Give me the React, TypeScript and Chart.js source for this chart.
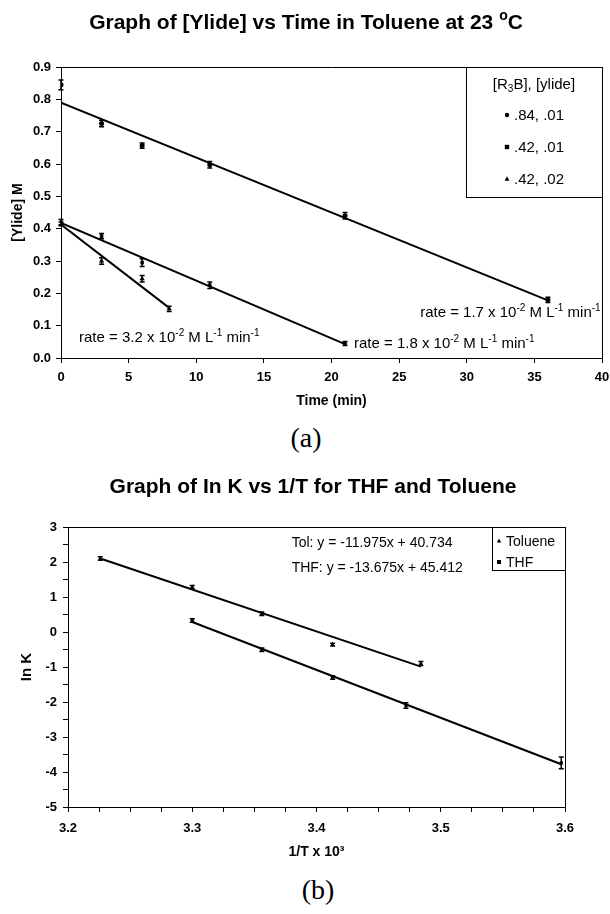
import React, { useEffect, useRef } from "react";
import { Chart, registerables } from "chart.js";

Chart.register(...registerables);

const SANS = "'Liberation Sans', Arial, Helvetica, sans-serif";
const SERIF = "'Liberation Serif', 'Times New Roman', serif";

// ---------------- chart (a) data ----------------
const labelsA = [".84, .01", ".42, .01", ".42, .02"];
const timeA1 = [0, 3, 6, 11, 21, 36];
const concA1 = [0.845, 0.725, 0.657, 0.598, 0.44, 0.18];
const errA1 = [0.015, 0.01, 0.008, 0.01, 0.01, 0.008];
const timeA2 = [0, 3, 6, 11, 21];
const concA2 = [0.42, 0.377, 0.295, 0.225, 0.045];
const errA2 = [0.008, 0.008, 0.012, 0.01, 0.006];
const timeA3 = [0, 3, 6, 8];
const concA3 = [0.415, 0.3, 0.245, 0.152];
const errA3 = [0.006, 0.01, 0.01, 0.008];
const fitTimeA1 = [0, 36];
const fitConcA1 = [0.79, 0.178];
const fitTimeA2 = [0, 21];
const fitConcA2 = [0.418, 0.043];
const fitTimeA3 = [0, 8];
const fitConcA3 = [0.413, 0.155];
const ratesA = ["3.2", "1.8", "1.7"];

// ---------------- chart (b) data ----------------
const labelsB = ["Toluene", "THF"];
const invTTol = [3.226, 3.3, 3.356, 3.413, 3.484];
const lnKTol = [2.1, 1.28, 0.52, -0.36, -0.9];
const errTol = [0.05, 0.05, 0.05, 0.04, 0.06];
const invTTHF = [3.3, 3.356, 3.413, 3.472, 3.597];
const lnKTHF = [0.33, -0.51, -1.3, -2.1, -3.74];
const errTHF = [0.05, 0.05, 0.05, 0.08, 0.17];
const fitInvTTol = [3.226, 3.484];
const fitLnKTol = [2.1, -0.99];
const fitInvTTHF = [3.3, 3.597];
const fitLnKTHF = [0.285, -3.78];
const eqTol = "Tol: y = -11.975x + 40.734";
const eqTHF = "THF: y = -13.675x + 45.412";

type Seg = [string, number];

const pts = (xs: number[], ys: number[]) => xs.map((x, i) => ({ x, y: ys[i] }));

function drawRich(
  ctx: CanvasRenderingContext2D,
  segs: Seg[],
  x: number,
  y: number,
  size: number,
  weight: string,
  align: "left" | "center" | "right"
) {
  const small = Math.round(size * 0.68);
  const fontFor = (m: number) => `${weight} ${m ? small : size}px ${SANS}`;
  let w = 0;
  for (const [t, m] of segs) {
    ctx.font = fontFor(m);
    w += ctx.measureText(t).width;
  }
  let cx = align === "center" ? x - w / 2 : align === "right" ? x - w : x;
  ctx.textAlign = "left";
  ctx.textBaseline = "alphabetic";
  ctx.fillStyle = "#000";
  for (const [t, m] of segs) {
    ctx.font = fontFor(m);
    const dy = m > 0 ? -size * 0.42 : m < 0 ? size * 0.22 : 0;
    ctx.fillText(t, cx, y + dy);
    cx += ctx.measureText(t).width;
  }
}

function drawMarker(ctx: CanvasRenderingContext2D, style: string, x: number, y: number, r: number) {
  ctx.beginPath();
  if (style === "rect") ctx.rect(x - r, y - r, 2 * r, 2 * r);
  else if (style === "triangle") {
    ctx.moveTo(x, y - r * 1.2);
    ctx.lineTo(x + r * 1.1, y + r * 0.8);
    ctx.lineTo(x - r * 1.1, y + r * 0.8);
    ctx.closePath();
  } else ctx.arc(x, y, r, 0, Math.PI * 2);
  ctx.fillStyle = "#000";
  ctx.fill();
}

const errorBarPlugin = {
  id: "errorBars",
  afterDatasetsDraw(chart: any) {
    const { ctx, scales } = chart;
    const y = scales.y;
    ctx.save();
    ctx.strokeStyle = "#000";
    ctx.lineWidth = 1.5;
    chart.data.datasets.forEach((ds: any, i: number) => {
      if (!ds.errors) return;
      const meta = chart.getDatasetMeta(i);
      meta.data.forEach((el: any, j: number) => {
        const v = ds.data[j].y;
        const e = ds.errors[j];
        const top = y.getPixelForValue(v + e);
        const bot = y.getPixelForValue(v - e);
        ctx.beginPath();
        ctx.moveTo(el.x, top);
        ctx.lineTo(el.x, bot);
        ctx.moveTo(el.x - 2.5, top);
        ctx.lineTo(el.x + 2.5, top);
        ctx.moveTo(el.x - 2.5, bot);
        ctx.lineTo(el.x + 2.5, bot);
        ctx.stroke();
      });
    });
    ctx.restore();
  },
};

function drawFrame(ctx: CanvasRenderingContext2D, ca: any) {
  ctx.strokeStyle = "#000";
  ctx.lineWidth = 1;
  ctx.beginPath();
  ctx.moveTo(ca.left, Math.round(ca.top) + 0.5);
  ctx.lineTo(Math.round(ca.right) + 0.5, Math.round(ca.top) + 0.5);
  ctx.lineTo(Math.round(ca.right) + 0.5, ca.bottom);
  ctx.stroke();
}

const rateSegs = (r: string): Seg[] => [
  [`rate = ${r} x 10`, 0],
  ["-2", 1],
  [" M L", 0],
  ["-1", 1],
  [" min", 0],
  ["-1", 1],
];

const decorA = {
  id: "decorA",
  afterDraw(chart: any) {
    const { ctx, chartArea: ca, scales } = chart;
    const { x, y } = scales;
    ctx.save();
    drawFrame(ctx, ca);
    // title
    drawRich(
      ctx,
      [["Graph of [Ylide] vs Time in Toluene at 23 ", 0], ["o", 1], ["C", 0]],
      306,
      29,
      21,
      "bold",
      "center"
    );
    // legend
    const bw = 136;
    const bh = 130;
    const bx = Math.round(ca.right) - bw;
    const by = Math.round(ca.top);
    ctx.strokeStyle = "#000";
    ctx.lineWidth = 1;
    ctx.strokeRect(bx + 0.5, by + 0.5, bw, bh);
    drawRich(ctx, [["[R", 0], ["3", -1], ["B], [ylide]", 0]], bx + bw / 2, by + 22, 15, "normal", "center");
    let row = 0;
    chart.data.datasets.forEach((ds: any) => {
      if (!ds.inLegend) return;
      const cy = by + 48 + row * 32;
      drawMarker(ctx, ds.pointStyle, bx + bw / 2 - 27, cy, 2.2);
      drawRich(ctx, [[ds.label, 0]], bx + bw / 2 - 20, cy + 5, 15, "normal", "left");
      row++;
    });
    // rate annotations
    const notes = [
      { r: ratesA[0], x: 1.33, y: 0.065, align: "left" },
      { r: ratesA[1], x: 21.66, y: 0.046, align: "left" },
      { r: ratesA[2], x: 39.9, y: 0.142, align: "right" },
    ];
    for (const n of notes) {
      drawRich(ctx, rateSegs(n.r), x.getPixelForValue(n.x), y.getPixelForValue(n.y) + 5, 15, "normal", n.align as any);
    }
    ctx.restore();
  },
};

const decorB = {
  id: "decorB",
  afterDraw(chart: any) {
    const { ctx, chartArea: ca, scales } = chart;
    const { x, y } = scales;
    ctx.save();
    drawFrame(ctx, ca);
    drawRich(ctx, [["Graph of In K vs 1/T for THF and Toluene", 0]], 313, 33, 21, "bold", "center");
    // legend
    const bw = 73;
    const bh = 43;
    const bx = Math.round(ca.right) - bw;
    const by = Math.round(ca.top);
    ctx.strokeStyle = "#000";
    ctx.lineWidth = 1;
    ctx.strokeRect(bx + 0.5, by + 0.5, bw, bh);
    let row = 0;
    chart.data.datasets.forEach((ds: any) => {
      if (!ds.inLegend) return;
      const cy = by + 14 + row * 21;
      drawMarker(ctx, ds.pointStyle, bx + 7, cy, 2);
      drawRich(ctx, [[ds.label, 0]], bx + 14, cy + 5, 14, "normal", "left");
      row++;
    });
    // equations
    drawRich(ctx, [[eqTol, 0]], x.getPixelForValue(3.38), y.getPixelForValue(2.57) + 5, 14, "normal", "left");
    drawRich(ctx, [[eqTHF, 0]], x.getPixelForValue(3.38), y.getPixelForValue(1.857) + 5, 14, "normal", "left");
    ctx.restore();
  },
};

const pointDs = (label: string, xs: number[], ys: number[], errs: number[], style: string, r: number) => ({
  label,
  data: pts(xs, ys),
  errors: errs,
  pointStyle: style,
  pointRadius: r,
  pointHoverRadius: r,
  backgroundColor: "#000",
  borderColor: "#000",
  borderWidth: 0,
  showLine: false,
  inLegend: true,
});

const fitDs = (xs: number[], ys: number[]) => ({
  label: "",
  data: pts(xs, ys),
  showLine: true,
  pointRadius: 0,
  pointHoverRadius: 0,
  borderColor: "#000",
  backgroundColor: "#000",
  borderWidth: 2,
  fill: false,
  inLegend: false,
});

const tickFont = { family: SANS, size: 13, weight: "bold" as const };

function buildA(): any {
  return {
    type: "scatter",
    data: {
      datasets: [
        pointDs(labelsA[0], timeA1, concA1, errA1, "circle", 2.5),
        pointDs(labelsA[1], timeA2, concA2, errA2, "rect", 2.5),
        pointDs(labelsA[2], timeA3, concA3, errA3, "triangle", 3),
        fitDs(fitTimeA1, fitConcA1),
        fitDs(fitTimeA2, fitConcA2),
        fitDs(fitTimeA3, fitConcA3),
      ],
    },
    options: {
      responsive: false,
      animation: false,
      events: [],
      layout: { padding: { top: 67, right: 8, left: 0, bottom: 0 } },
      plugins: { legend: { display: false }, title: { display: false }, tooltip: { enabled: false } },
      scales: {
        x: {
          type: "linear",
          min: 0,
          max: 40,
          ticks: { stepSize: 5, font: tickFont, color: "#000", padding: 7, maxRotation: 0, autoSkip: false },
          grid: { drawOnChartArea: false, drawTicks: true, tickLength: 5, color: "#000" },
          border: { color: "#000", width: 1 },
          title: {
            display: true,
            text: "Time (min)",
            color: "#000",
            font: { family: SANS, size: 14, weight: "bold" },
            padding: { top: 0, bottom: 10 },
          },
          afterFit: (s: any) => {
            s.height = 62;
            s.paddingLeft = 0;
            s.paddingRight = 0;
          },
        },
        y: {
          type: "linear",
          min: 0,
          max: 0.9,
          ticks: {
            stepSize: 0.1,
            font: tickFont,
            color: "#000",
            padding: 5,
            autoSkip: false,
            callback: (v: any) => Number(v).toFixed(1),
          },
          grid: { drawOnChartArea: false, drawTicks: true, tickLength: 5, color: "#000" },
          border: { color: "#000", width: 1 },
          title: {
            display: true,
            text: "[Ylide] M",
            color: "#000",
            font: { family: SANS, size: 14, weight: "bold" },
            padding: { top: 10, bottom: 0 },
          },
          afterFit: (s: any) => {
            s.width = 61;
            s.paddingTop = 0;
            s.paddingBottom = 0;
          },
        },
      },
    },
    plugins: [errorBarPlugin, decorA],
  };
}

function buildB(): any {
  return {
    type: "scatter",
    data: {
      datasets: [
        pointDs(labelsB[0], invTTol, lnKTol, errTol, "triangle", 2.6),
        pointDs(labelsB[1], invTTHF, lnKTHF, errTHF, "rect", 2.3),
        fitDs(fitInvTTol, fitLnKTol),
        fitDs(fitInvTTHF, fitLnKTHF),
      ],
    },
    options: {
      responsive: false,
      animation: false,
      events: [],
      layout: { padding: { top: 67, right: 45, left: 0, bottom: 0 } },
      plugins: { legend: { display: false }, title: { display: false }, tooltip: { enabled: false } },
      scales: {
        x: {
          type: "linear",
          min: 3.2,
          max: 3.6,
          ticks: {
            stepSize: 0.025,
            font: tickFont,
            color: "#000",
            padding: 9,
            maxRotation: 0,
            autoSkip: false,
            callback: (v: any) => {
              const n = Number(v) * 10;
              return Math.abs(n - Math.round(n)) < 1e-6 ? Number(v).toFixed(1) : "";
            },
          },
          grid: { drawOnChartArea: false, drawTicks: true, tickLength: 5, color: "#000" },
          border: { color: "#000", width: 1 },
          title: {
            display: true,
            text: "1/T x 10³",
            color: "#000",
            font: { family: SANS, size: 14, weight: "bold" },
            padding: { top: 0, bottom: 9 },
          },
          afterFit: (s: any) => {
            s.height = 63;
            s.paddingLeft = 0;
            s.paddingRight = 0;
          },
        },
        y: {
          type: "linear",
          min: -5,
          max: 3,
          ticks: {
            stepSize: 0.5,
            font: tickFont,
            color: "#000",
            padding: 6,
            autoSkip: false,
            callback: (v: any) => {
              const n = Number(v);
              return Math.abs(n - Math.round(n)) < 1e-6 ? String(Math.round(n)) : "";
            },
          },
          grid: { drawOnChartArea: false, drawTicks: true, tickLength: 5, color: "#000" },
          border: { color: "#000", width: 1 },
          title: {
            display: true,
            text: "In K",
            color: "#000",
            font: { family: SANS, size: 15, weight: "bold" },
            padding: { top: 18, bottom: 0 },
          },
          afterFit: (s: any) => {
            s.width = 68;
            s.paddingTop = 0;
            s.paddingBottom = 0;
          },
        },
      },
    },
    plugins: [errorBarPlugin, decorB],
  };
}

function ChartCanvas({ build, width, height }: { build: () => any; width: number; height: number }) {
  const ref = useRef<HTMLCanvasElement | null>(null);
  useEffect(() => {
    const chart = new Chart(ref.current as HTMLCanvasElement, build());
    return () => chart.destroy();
  }, []);
  return <canvas ref={ref} width={width} height={height} style={{ display: "block", width, height }} />;
}

export default function App() {
  return (
    <div style={{ position: "fixed", left: 0, top: 0, width: 610, height: 914, background: "#fff", overflow: "hidden" }}>
      <div style={{ position: "absolute", left: 0, top: 0 }}>
        <ChartCanvas build={buildA} width={610} height={420} />
      </div>
      <div
        style={{
          position: "absolute",
          left: 256,
          top: 423,
          width: 100,
          height: 30,
          lineHeight: "30px",
          textAlign: "center",
          fontFamily: SERIF,
          fontSize: 28,
          color: "#000",
        }}
      >
        (a)
      </div>
      <div style={{ position: "absolute", left: 0, top: 460 }}>
        <ChartCanvas build={buildB} width={610} height={410} />
      </div>
      <div
        style={{
          position: "absolute",
          left: 268,
          top: 875,
          width: 100,
          height: 30,
          lineHeight: "30px",
          textAlign: "center",
          fontFamily: SERIF,
          fontSize: 28,
          color: "#000",
        }}
      >
        (b)
      </div>
    </div>
  );
}
